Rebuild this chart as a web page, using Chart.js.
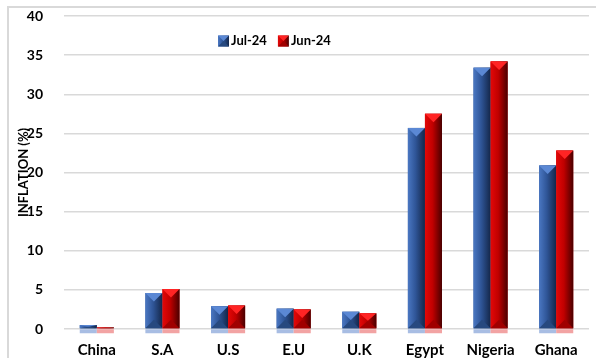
<!DOCTYPE html>
<html>
<head>
<meta charset="utf-8">
<script src="https://cdn.jsdelivr.net/npm/chart.js@4.4.1/dist/chart.umd.min.js"></script>
<style>
  html, body { margin: 0; padding: 0; background: #fff; overflow: hidden; }
  #wrap { position: relative; width: 596px; height: 358px; }
  #frame { position: absolute; left: 7px; top: 6px; width: 700px; height: 500px; border: 2px solid #d9d9d9; box-sizing: border-box; }
  canvas { position: absolute; left: 0; top: 0; }
</style>
</head>
<body>
<div id="wrap">
  <div id="frame"></div>
  <canvas id="inflationChart" width="596" height="358"></canvas>
</div>
<script>
// inflation rates by economy, July vs June 2024
const countries = ['China', 'S.A', 'U.S', 'E.U', 'U.K', 'Egypt', 'Nigeria', 'Ghana'];
const jul24 = [0.5, 4.6, 2.9, 2.6, 2.2, 25.7, 33.4, 20.9];
const jun24 = [0.2, 5.1, 3.0, 2.5, 2.0, 27.5, 34.2, 22.8];
const yTicks = [0, 5, 10, 15, 20, 25, 30, 35, 40];

const FONT = 'Lato, "Open Sans", sans-serif';

// colours for the bevelled "pyramid" bar look
const shades = [
    { base: '#2f5597', left: '#4a77c2', mid: '#2f5597', right: '#14274a',
      top: '#5b88d4', bottom: '#27497f', reflect: '#a8bde3' },
    { base: '#c00000', left: '#e30808', mid: '#c00000', right: '#4a0000',
      top: '#ff2424', bottom: '#a00000', reflect: '#f2a3a3' }
];

function drawBevel(ctx, l, r, top, base, sh) {
    const w = r - l, h = base - top, cx = (l + r) / 2;
    const b = Math.min(w / 2, h / 2);
    const g = ctx.createLinearGradient(l, 0, r, 0);
    g.addColorStop(0, sh.left);
    g.addColorStop(0.45, sh.mid);
    g.addColorStop(1, sh.right);
    ctx.fillStyle = g;
    ctx.fillRect(l, top, w, h);
    // top facet
    ctx.beginPath();
    ctx.moveTo(l, top); ctx.lineTo(r, top); ctx.lineTo(cx, top + b); ctx.closePath();
    ctx.fillStyle = sh.top;
    ctx.fill();
    // bottom facet
    ctx.beginPath();
    ctx.moveTo(l, base); ctx.lineTo(r, base); ctx.lineTo(cx, base - b); ctx.closePath();
    ctx.fillStyle = sh.bottom;
    ctx.fill();
}

const bevelBars = {
    id: 'bevelBars',
    afterDatasetsDraw(chart) {
        const ctx = chart.ctx;
        ctx.save();
        chart.data.datasets.forEach((ds, di) => {
            const sh = shades[di];
            chart.getDatasetMeta(di).data.forEach(bar => {
                const p = bar.getProps(['x', 'y', 'base', 'width'], true);
                const l = p.x - p.width / 2, r = p.x + p.width / 2;
                // faint reflection under the baseline
                ctx.fillStyle = sh.reflect;
                ctx.fillRect(l, p.base + 1, p.width, 4);
                drawBevel(ctx, l, r, p.y, p.base, sh);
            });
        });
        ctx.restore();
    }
};

// legend sits inside the plot, so it is painted by hand
const innerLegend = {
    id: 'innerLegend',
    afterDraw(chart) {
        const ctx = chart.ctx;
        ctx.save();
        ctx.font = 'bold 13px ' + FONT;
        ctx.textBaseline = 'middle';
        let x = 218;
        const y = 41;
        chart.data.datasets.forEach((ds, di) => {
            drawBevel(ctx, x, x + 11, y - 5.5, y + 5.5, shades[di]);
            ctx.fillStyle = '#000';
            ctx.fillText(ds.label, x + 13, y);
            x += 13 + ctx.measureText(ds.label).width + 11;
        });
        ctx.restore();
    }
};

const chartConfig = {
    type: 'bar',
    data: {
        labels: countries,
        datasets: [
            { label: 'Jul-24', data: jul24, backgroundColor: shades[0].base },
            { label: 'Jun-24', data: jun24, backgroundColor: shades[1].base }
        ]
    },
    options: {
        responsive: false,
        animation: false,
        events: [],
        layout: { padding: { top: 16, right: 7, bottom: 0, left: 16 } },
        datasets: { bar: { categoryPercentage: 0.52, barPercentage: 1 } },
        plugins: {
            legend: { display: false },
            tooltip: { enabled: false }
        },
        scales: {
            x: {
                afterFit: axis => { axis.height = 29; },
                grid: { display: false },
                border: { display: false },
                ticks: { color: '#000', padding: 4, font: { family: FONT, size: 15, weight: 'bold' } }
            },
            y: {
                min: 0,
                max: 40,
                afterBuildTicks: axis => { axis.ticks = yTicks.map(v => ({ value: v })); },
                afterFit: axis => {
                    axis.width = 48;
                    axis.paddingTop = 0;
                    axis.paddingBottom = 0;
                },
                grid: { color: '#d9d9d9', lineWidth: 1.5, drawTicks: false },
                border: { display: false },
                ticks: { color: '#000', padding: 21, font: { family: FONT, size: 14, weight: 'bold' } },
                title: {
                    display: true,
                    text: 'INFLATION (%)',
                    color: '#000',
                    padding: { top: 0, bottom: 0 },
                    font: { family: FONT, size: 13, weight: 'bold' }
                }
            }
        }
    },
    plugins: [bevelBars, innerLegend]
};

new Chart(document.getElementById('inflationChart').getContext('2d'), chartConfig);
</script>
</body>
</html>
